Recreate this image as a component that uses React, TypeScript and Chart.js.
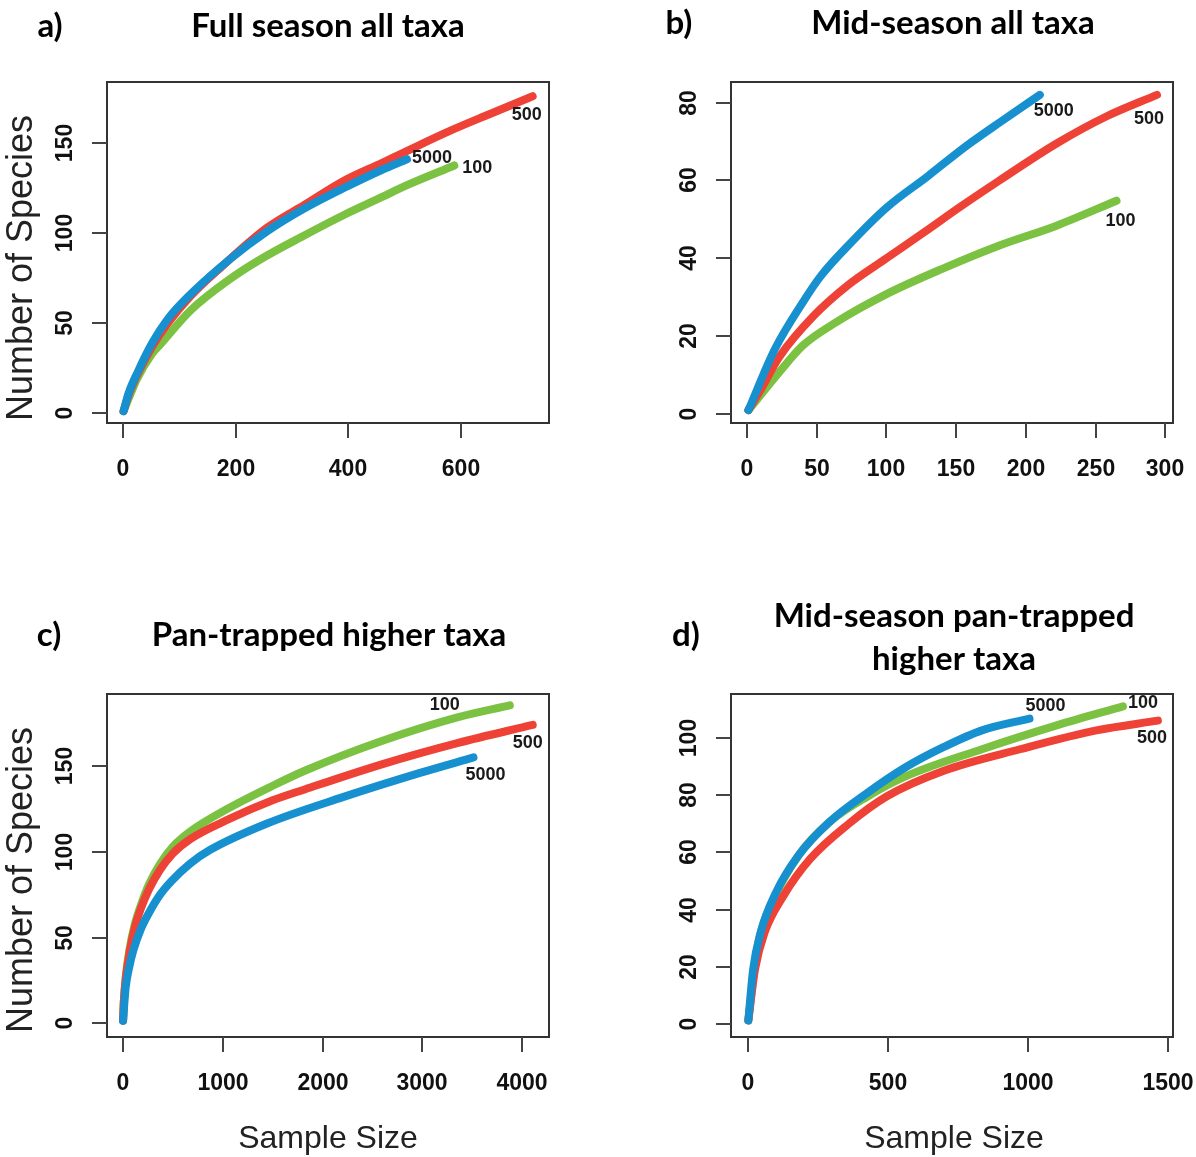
import React, { useEffect, useRef } from "react";
import { Chart, registerables } from "chart.js";

Chart.register(...registerables);

// ---- Series colours ----
const RED = "#EF4237";
const BLUE = "#1790D0";
const GREEN = "#7CC242";

// ---- a) Full season all taxa ----
const FULL_5000_X = [1, 10, 25, 52, 79, 120, 188, 256, 324, 392, 459, 504];
const FULL_5000_Y = [1, 11, 22, 39, 52, 66, 85, 101, 114, 125, 135, 141];
const FULL_500_X = [1, 10, 25, 52, 80, 120, 174, 256, 324, 392, 460, 500, 582, 650, 727];
const FULL_500_Y = [1, 10, 21, 37, 50, 65, 81, 103, 116, 129, 139, 145, 157, 166, 176];
const FULL_100_X = [1, 10, 25, 52, 66, 120, 188, 242, 324, 392, 460, 500, 588];
const FULL_100_Y = [1, 8, 19, 33, 38, 57, 74, 85, 99, 110, 120, 126, 137.5];
const FULL_X_TICKS = [0, 200, 400, 600];
const FULL_Y_TICKS = [0, 50, 100, 150];

// ---- b) Mid-season all taxa ----
const MID_5000_X = [1, 20, 40, 53, 75, 100, 130, 157, 184, 210];
const MID_5000_Y = [1, 16.7, 28.7, 35.5, 44.2, 53, 61.2, 68.8, 75.6, 82];
const MID_500_X = [1, 10, 23, 48, 72, 100, 127, 154, 181, 222, 258, 294];
const MID_500_Y = [1, 6.4, 14.6, 25.3, 33, 40, 46.7, 53.5, 60, 69.5, 76.5, 82];
const MID_100_X = [1, 23, 40, 64, 100, 140, 181, 222, 265];
const MID_100_Y = [1, 10.7, 17.6, 23.6, 30.8, 37.3, 43.3, 48.4, 54.8];
const MID_X_TICKS = [0, 50, 100, 150, 200, 250, 300];
const MID_Y_TICKS = [0, 20, 40, 60, 80];

// ---- c) Pan-trapped higher taxa ----
const PAN_5000_X = [1, 27, 60, 103, 180, 257, 372, 487, 670, 870, 1444, 2211, 2977, 3513];
const PAN_5000_Y = [1.5, 20.8, 32, 42.3, 55, 64, 75, 83, 93, 101, 116.5, 132, 146, 155];
const PAN_500_X = [1, 8, 30, 65, 120, 180, 260, 372, 500, 678, 1061, 1500, 1828, 2594, 3360, 4107];
const PAN_500_Y = [1.5, 12, 27, 41, 56, 67, 78, 89.5, 99, 107.5, 119, 130, 136.5, 151, 163.5, 174];
const PAN_100_X = [1, 8, 30, 65, 120, 180, 260, 372, 500, 678, 1061, 1500, 1828, 2594, 3360, 3877];
const PAN_100_Y = [1.5, 12, 28, 43, 58, 69, 81, 93, 103, 112, 125.5, 138.5, 147.4, 164.6, 178.5, 185.4];
const PAN_X_TICKS = [0, 1000, 2000, 3000, 4000];
const PAN_Y_TICKS = [0, 50, 100, 150];

// ---- d) Mid-season pan-trapped higher taxa ----
const MIDPAN_5000_X = [1, 18, 45, 100, 181, 290, 427, 563, 700, 836, 1006];
const MIDPAN_5000_Y = [1.3, 19, 32, 46, 59, 70.5, 80.8, 89.7, 96.8, 102.6, 106.7];
const MIDPAN_500_X = [1, 25, 59, 127, 222, 359, 495, 700, 972, 1245, 1465];
const MIDPAN_500_Y = [1.3, 19.2, 32, 44.9, 57.7, 69.9, 79.5, 88.5, 96, 102.6, 106];
const MIDPAN_100_X = [1, 31, 86, 181, 290, 427, 563, 836, 1109, 1340];
const MIDPAN_100_Y = [1.3, 25.6, 42.3, 59, 70.5, 79.5, 86.5, 96, 104.5, 111];
const MIDPAN_X_TICKS = [0, 500, 1000, 1500];
const MIDPAN_Y_TICKS = [0, 20, 40, 60, 80, 100];

const TITLE_FONT = "Lato, 'Open Sans', sans-serif";
const AXIS_FONT = "'Liberation Sans', Arial, sans-serif";

type Series = {
  name: string;
  x: number[];
  y: number[];
  color: string;
  labelDx: number;
  labelDy: number;
};

type PanelCfg = {
  letter: string;
  title: string[];
  titleX: number;
  titleY: number[];
  letterX: number;
  letterY: number;
  left: number;
  top: number;
  width: number;
  height: number;
  box: { l: number; t: number; r: number; b: number };
  xRange: [number, number];
  yRange: [number, number];
  xTicks: number[];
  yTicks: number[];
  yTitle: { x: number; y: number } | null;
  xTitle: { x: number; y: number } | null;
  series: Series[];
};

const PANELS: PanelCfg[] = [
  {
    letter: "a)",
    title: ["Full season all taxa"],
    titleX: 328,
    titleY: [37],
    letterX: 50,
    letterY: 37,
    left: 0,
    top: 0,
    width: 598,
    height: 578,
    box: { l: 107, t: 82, r: 549, b: 423 },
    xRange: [-28.4, 756],
    yRange: [-5.6, 183.9],
    xTicks: FULL_X_TICKS,
    yTicks: FULL_Y_TICKS,
    yTitle: { x: 22, y: 268 },
    xTitle: null,
    series: [
      { name: "5000", x: FULL_5000_X, y: FULL_5000_Y, color: BLUE, labelDx: 25, labelDy: -1 },
      { name: "500", x: FULL_500_X, y: FULL_500_Y, color: RED, labelDx: -6, labelDy: 19 },
      { name: "100", x: FULL_100_X, y: FULL_100_Y, color: GREEN, labelDx: 23, labelDy: 3 },
    ],
  },
  {
    letter: "b)",
    title: ["Mid-season all taxa"],
    titleX: 355,
    titleY: [34],
    letterX: 81,
    letterY: 34,
    left: 598,
    top: 0,
    width: 598,
    height: 578,
    box: { l: 133, t: 82, r: 575, b: 423 },
    xRange: [-11.5, 305.5],
    yRange: [-2.3, 85.3],
    xTicks: MID_X_TICKS,
    yTicks: MID_Y_TICKS,
    yTitle: null,
    xTitle: null,
    series: [
      { name: "5000", x: MID_5000_X, y: MID_5000_Y, color: BLUE, labelDx: 14, labelDy: 16 },
      { name: "500", x: MID_500_X, y: MID_500_Y, color: RED, labelDx: -8, labelDy: 24 },
      { name: "100", x: MID_100_X, y: MID_100_Y, color: GREEN, labelDx: 4, labelDy: 20 },
    ],
  },
  {
    letter: "c)",
    title: ["Pan-trapped higher taxa"],
    titleX: 329,
    titleY: [68],
    letterX: 49,
    letterY: 68,
    left: 0,
    top: 578,
    width: 598,
    height: 579,
    box: { l: 107, t: 116, r: 549, b: 459 },
    xRange: [-160, 4270],
    yRange: [-8, 192],
    xTicks: PAN_X_TICKS,
    yTicks: PAN_Y_TICKS,
    yTitle: { x: 22, y: 302 },
    xTitle: { x: 328, y: 561 },
    series: [
      { name: "5000", x: PAN_5000_X, y: PAN_5000_Y, color: BLUE, labelDx: 12, labelDy: 18 },
      { name: "500", x: PAN_500_X, y: PAN_500_Y, color: RED, labelDx: -5, labelDy: 18 },
      { name: "100", x: PAN_100_X, y: PAN_100_Y, color: GREEN, labelDx: -65, labelDy: 0 },
    ],
  },
  {
    letter: "d)",
    title: ["Mid-season pan-trapped", "higher taxa"],
    titleX: 356,
    titleY: [49, 92],
    letterX: 88,
    letterY: 68,
    left: 598,
    top: 578,
    width: 598,
    height: 579,
    box: { l: 133, t: 116, r: 575, b: 459 },
    xRange: [-61, 1519],
    yRange: [-4.5, 115.3],
    xTicks: MIDPAN_X_TICKS,
    yTicks: MIDPAN_Y_TICKS,
    yTitle: null,
    xTitle: { x: 356, y: 561 },
    series: [
      { name: "5000", x: MIDPAN_5000_X, y: MIDPAN_5000_Y, color: BLUE, labelDx: 16, labelDy: -13 },
      { name: "500", x: MIDPAN_500_X, y: MIDPAN_500_Y, color: RED, labelDx: -6, labelDy: 17 },
      { name: "100", x: MIDPAN_100_X, y: MIDPAN_100_Y, color: GREEN, labelDx: 20, labelDy: -3 },
    ],
  },
];

const TICK_LEN = 15;

// Draws the R-style frame, tick marks, tick labels, titles and end-of-curve labels.
function makeDecorPlugin(cfg: PanelCfg) {
  return {
    id: "rStyleDecor",
    afterDraw(chart: any) {
      const ctx: CanvasRenderingContext2D = chart.ctx;
      const { left, top, right, bottom } = chart.chartArea;
      const xs = chart.scales.x;
      const ys = chart.scales.y;
      ctx.save();

      // frame
      ctx.strokeStyle = "#333";
      ctx.lineWidth = 2;
      ctx.strokeRect(left, top, right - left, bottom - top);

      // x ticks + labels
      ctx.lineWidth = 2;
      ctx.strokeStyle = "#444";
      ctx.fillStyle = "#111";
      ctx.font = `bold 23px ${AXIS_FONT}`;
      ctx.textAlign = "center";
      ctx.textBaseline = "middle";
      for (const v of cfg.xTicks) {
        const px = Math.round(xs.getPixelForValue(v));
        ctx.beginPath();
        ctx.moveTo(px, bottom);
        ctx.lineTo(px, bottom + TICK_LEN);
        ctx.stroke();
        ctx.fillText(String(v), px, bottom + 47);
      }
      // y ticks + rotated labels
      for (const v of cfg.yTicks) {
        const py = Math.round(ys.getPixelForValue(v));
        ctx.beginPath();
        ctx.moveTo(left, py);
        ctx.lineTo(left - TICK_LEN, py);
        ctx.stroke();
        ctx.save();
        ctx.translate(left - 41, py);
        ctx.rotate(-Math.PI / 2);
        ctx.fillText(String(v), 0, 0);
        ctx.restore();
      }

      // axis titles
      ctx.fillStyle = "#222";
      if (cfg.yTitle) {
        ctx.save();
        ctx.font = `36px ${AXIS_FONT}`;
        ctx.translate(cfg.yTitle.x, cfg.yTitle.y);
        ctx.rotate(-Math.PI / 2);
        ctx.fillText("Number of Species", 0, 0);
        ctx.restore();
      }
      if (cfg.xTitle) {
        ctx.font = `32px ${AXIS_FONT}`;
        ctx.fillText("Sample Size", cfg.xTitle.x, cfg.xTitle.y);
      }

      // panel title and letter
      ctx.fillStyle = "#000";
      ctx.textBaseline = "alphabetic";
      ctx.font = `bold 33px ${TITLE_FONT}`;
      cfg.title.forEach((line, i) => ctx.fillText(line, cfg.titleX, cfg.titleY[i]));
      ctx.fillText(cfg.letter, cfg.letterX, cfg.letterY);

      // curve end labels
      ctx.fillStyle = "#1a1a1a";
      ctx.textBaseline = "middle";
      ctx.font = `bold 18px ${AXIS_FONT}`;
      for (const s of cfg.series) {
        const n = s.x.length - 1;
        const px = xs.getPixelForValue(s.x[n]);
        const py = ys.getPixelForValue(s.y[n]);
        ctx.fillText(s.name, px + s.labelDx, py + s.labelDy);
      }
      ctx.restore();
    },
  };
}

function Panel({ cfg }: { cfg: PanelCfg }) {
  const ref = useRef<HTMLCanvasElement>(null);
  useEffect(() => {
    if (!ref.current) return;
    const chart = new Chart(ref.current, {
      type: "line",
      data: {
        datasets: cfg.series.map((s) => ({
          label: s.name,
          data: s.x.map((x, i) => ({ x, y: s.y[i] })),
          borderColor: s.color,
          backgroundColor: s.color,
          borderWidth: 8,
          borderCapStyle: "round",
          borderJoinStyle: "round",
          pointRadius: 0,
          fill: false,
          cubicInterpolationMode: "monotone",
          clip: false,
        })),
      },
      options: {
        responsive: false,
        animation: false,
        devicePixelRatio: 1,
        events: [],
        layout: {
          padding: {
            left: cfg.box.l,
            top: cfg.box.t,
            right: cfg.width - cfg.box.r,
            bottom: cfg.height - cfg.box.b,
          },
        },
        scales: {
          x: { type: "linear", display: false, min: cfg.xRange[0], max: cfg.xRange[1] },
          y: { type: "linear", display: false, min: cfg.yRange[0], max: cfg.yRange[1] },
        },
        plugins: {
          legend: { display: false },
          tooltip: { enabled: false },
        },
      },
      plugins: [makeDecorPlugin(cfg)],
    } as any);
    return () => chart.destroy();
  }, [cfg]);
  return (
    <canvas
      ref={ref}
      width={cfg.width}
      height={cfg.height}
      style={{
        position: "absolute",
        left: cfg.left,
        top: cfg.top,
        width: cfg.width,
        height: cfg.height,
      }}
    />
  );
}

export default function App() {
  return (
    <div
      style={{
        position: "absolute",
        left: 0,
        top: 0,
        width: 1196,
        height: 1157,
        background: "#fff",
        overflow: "hidden",
      }}
    >
      {PANELS.map((p) => (
        <Panel key={p.letter} cfg={p} />
      ))}
    </div>
  );
}
